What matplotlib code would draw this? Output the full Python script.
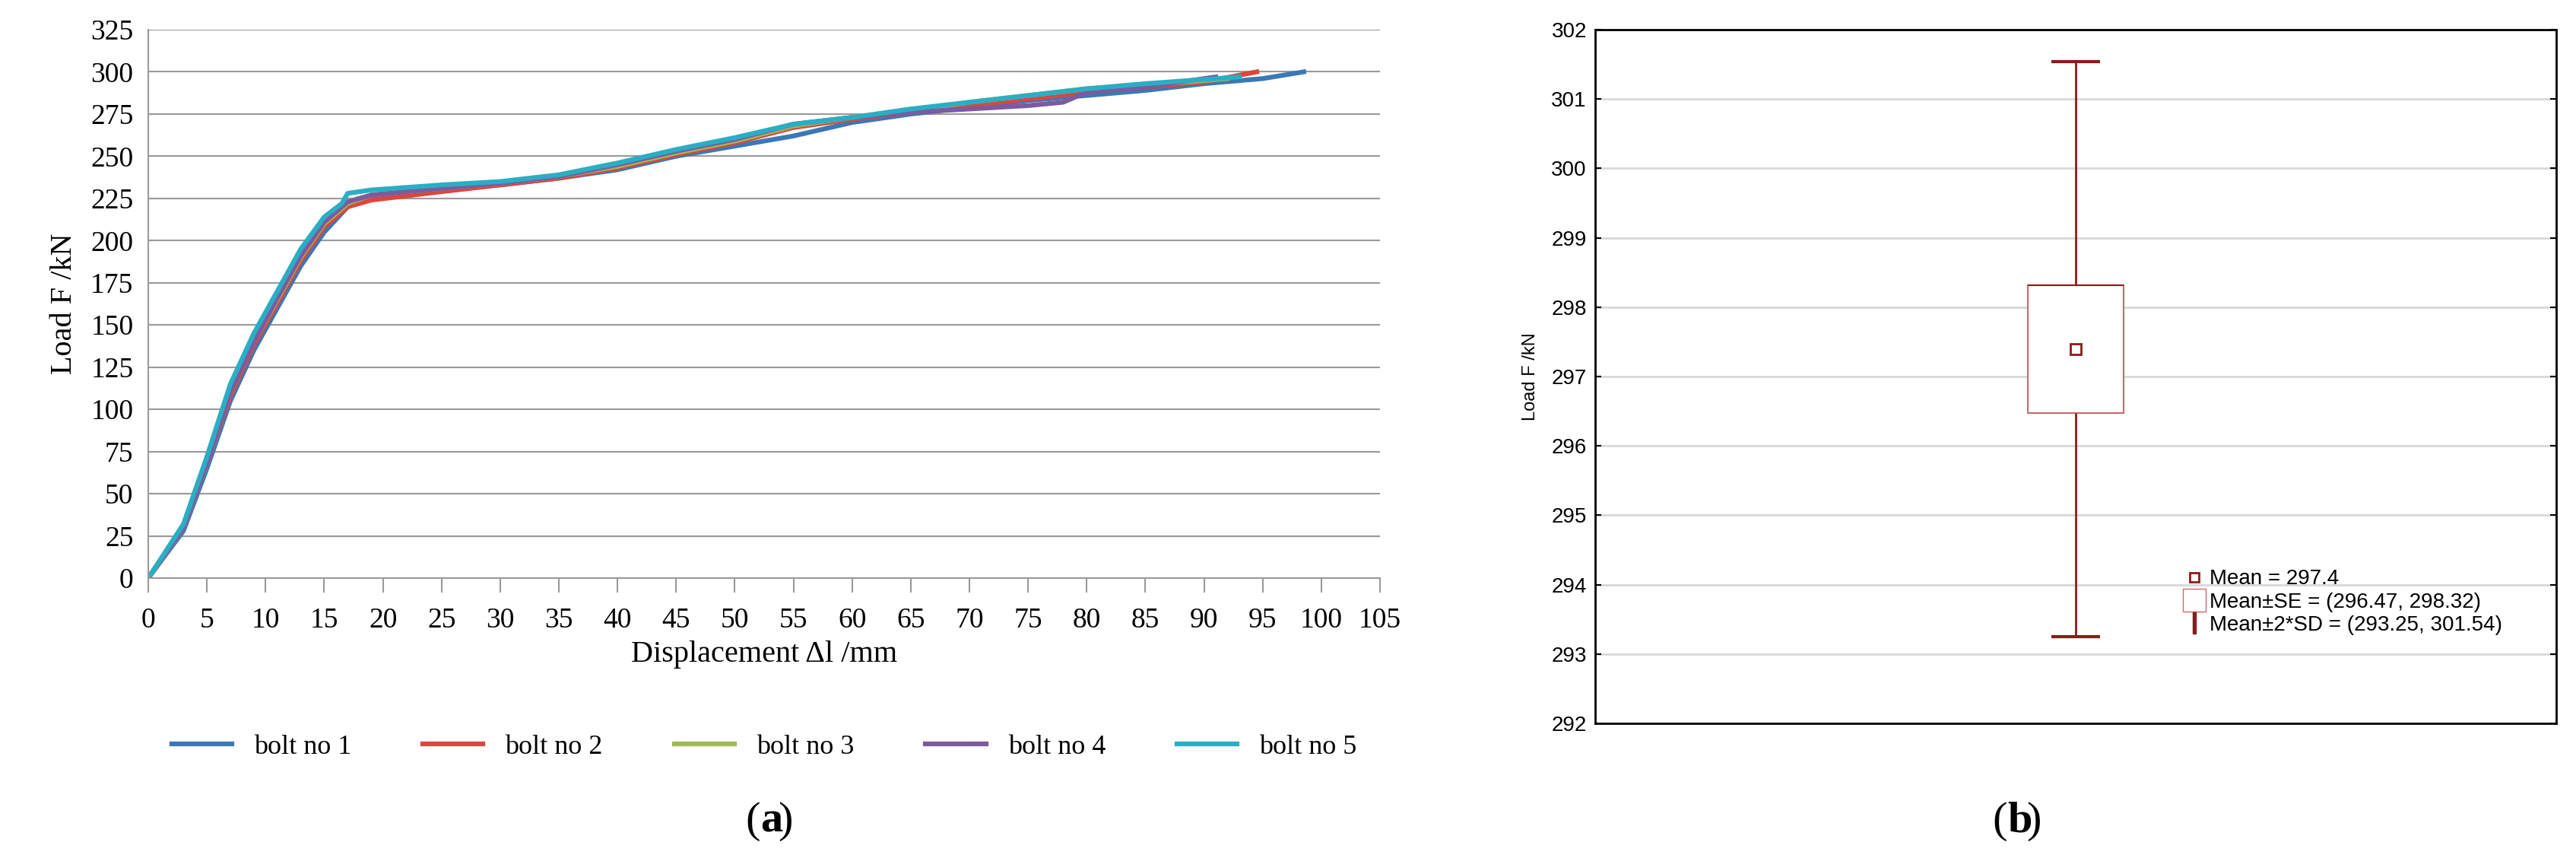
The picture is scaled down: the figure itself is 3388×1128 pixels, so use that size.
import matplotlib
matplotlib.use("Agg")
import matplotlib.pyplot as plt
from matplotlib.lines import Line2D
from matplotlib.patches import Rectangle

# --- [ panel a: load-displacement curves ] ---
BOLT_LABELS = ["bolt no 1", "bolt no 2", "bolt no 3", "bolt no 4", "bolt no 5"]
BOLT_COLORS = ["#3b78b5", "#d9473e", "#9dbb55", "#7d5aa0", "#2aaec4"]

DISP = [
    [0, 3, 5, 7, 9, 11, 13, 15, 17, 19, 25, 30, 35, 40, 45, 50, 55, 60, 65, 70, 75, 80, 85, 90, 95, 98.5],
    [0, 3, 5, 7, 9, 11, 13, 15, 17, 19, 25, 30, 35, 40, 45, 50, 55, 60, 65, 70, 75, 80, 85, 90, 94.5],
    [0, 3, 5, 7, 9, 11, 13, 15, 17, 19, 25, 30, 35, 40, 45, 50, 55, 60, 65, 70, 75, 80, 85, 92],
    [0, 3, 5, 7, 9, 11, 13, 15, 17, 19, 25, 30, 35, 40, 45, 50, 55, 60, 65, 70, 75, 78, 80, 85, 91],
    [0, 3, 5, 7, 9, 11, 13, 15, 16.5, 17, 19, 25, 30, 35, 40, 45, 50, 55, 60, 65, 70, 75, 80, 85, 93],
]
LOAD = [
    [0, 28, 65, 105, 135, 160, 185, 205, 220, 225, 230, 233, 237, 242, 250, 256, 262, 270, 275, 279, 283, 286, 289, 293, 296, 300],
    [0, 30, 68, 108, 138, 163, 188, 208, 220, 224, 229, 233, 237, 243, 251, 258, 267, 272, 276, 280, 284, 288, 291, 294, 300],
    [0, 30, 68, 110, 140, 165, 190, 210, 222, 227, 231, 234, 238, 244, 252, 259, 268, 273, 277, 282, 286, 290, 292, 296],
    [0, 30, 68, 110, 140, 166, 191, 211, 223, 227, 231, 234, 238, 245, 253, 260, 269, 273, 276, 278, 280, 282, 288, 291, 297],
    [0, 32, 72, 115, 145, 170, 195, 214, 222, 228, 230, 233, 235, 239, 246, 254, 261, 269, 273, 278, 282, 286, 290, 293, 297],
]

# --- [ panel b: mean / SE / 2*SD plot ] ---
MEAN = 297.4
SE_LOW, SE_HIGH = 296.47, 298.32
SD_LOW, SD_HIGH = 293.25, 301.54

SERIF = ["Liberation Serif", "DejaVu Serif"]
SANS = ["Liberation Sans", "DejaVu Sans"]
DARK_RED = "#8b1a1a"

fig = plt.figure(figsize=(33.88, 11.28), dpi=100)

# left axes
ax = fig.add_axes([195 / 3388, 1 - 760 / 1128, 1620 / 3388, 721 / 1128])
for xs, ys, color, label in zip(DISP, LOAD, BOLT_COLORS, BOLT_LABELS):
    ax.plot(xs, ys, color=color, lw=4.5, label=label)
ax.set_xlim(0, 105)
ax.set_ylim(0, 325)
ax.set_xticks(range(0, 106, 5))
ax.set_yticks(range(0, 326, 25))
ax.grid(axis="y", color="#9a9a9a", lw=1.5)
ax.set_axisbelow(True)
for side in ["top", "right"]:
    ax.spines[side].set_visible(False)
ax.spines["left"].set_color("#9a9a9a")
ax.spines["bottom"].set_color("#9a9a9a")
ax.spines["left"].set_linewidth(1.5)
ax.spines["bottom"].set_linewidth(1.5)
ax.tick_params(axis="y", length=0, pad=14)
ax.tick_params(axis="x", length=14, width=1.5, color="#9a9a9a", pad=14)
for t in ax.get_xticklabels() + ax.get_yticklabels():
    t.set_fontfamily(SERIF)
    t.set_fontsize(27)
ax.set_xlabel("Displacement Δl /mm", fontsize=29, family=SERIF, labelpad=6)
ax.set_ylabel("Load F /kN", fontsize=29, family=SERIF, labelpad=12)
ax.legend(loc="upper center", bbox_to_anchor=(0.5, -0.24), ncol=5, frameon=False,
          prop={"family": SERIF, "size": 26}, handlelength=2.2, columnspacing=2.6)
fig.text(1000 / 3388, 1 - 1080 / 1128, "(", ha="right", va="center",
         fontsize=42, family=SERIF)
fig.text(1000 / 3388, 1 - 1080 / 1128, "a", ha="left", va="center",
         fontsize=42, family=SERIF, fontweight="bold")
fig.text(1023 / 3388, 1 - 1080 / 1128, ")", ha="left", va="center",
         fontsize=42, family=SERIF)

# right axes
bx = fig.add_axes([2098 / 3388, 1 - 951 / 1128, 1264 / 3388, 912 / 1128])
bx.set_xlim(0, 1)
bx.set_ylim(292, 302)
bx.set_yticks(range(292, 303))
bx.set_xticks([])
bx.grid(axis="y", color="#d8d8d8", lw=2)
bx.set_axisbelow(True)
for s in bx.spines.values():
    s.set_linewidth(2)
bx.tick_params(axis="y", direction="in", length=6, width=1.5, right=True, pad=8)
for t in bx.get_yticklabels():
    t.set_fontfamily(SANS)
    t.set_fontsize(20)
bx.set_ylabel("Load F /kN", fontsize=17, family=SANS, labelpad=12)

bx.vlines(0.5, SD_LOW, SE_LOW, color=DARK_RED, lw=2)
bx.vlines(0.5, SE_HIGH, SD_HIGH, color=DARK_RED, lw=2)
bx.hlines([SD_LOW, SD_HIGH], 0.475, 0.525, color=DARK_RED, lw=3)
bx.add_patch(Rectangle((0.45, SE_LOW), 0.1, SE_HIGH - SE_LOW, facecolor="white",
                       edgecolor="#c96a6a", lw=1.5))
bx.hlines(SE_HIGH, 0.45, 0.55, color=DARK_RED, lw=1.5)
bx.plot([0.5], [MEAN], marker="s", ms=10, mfc="white", mec=DARK_RED, mew=2)

handles = [
    Line2D([], [], ls="none", marker="s", ms=8, mfc="white", mec=DARK_RED, mew=2),
    Line2D([], [], ls="none", marker="s", ms=22, mfc="white", mec="#c96a6a", mew=1),
    Line2D([], [], ls="none", marker="$\\mathsf{I}$", ms=20, color=DARK_RED),
]
labels = [f"Mean = {MEAN}", f"Mean±SE = ({SE_LOW}, {SE_HIGH})",
          f"Mean±2*SD = ({SD_LOW}, {SD_HIGH})"]
bx.legend(handles, labels, loc="lower left", bbox_to_anchor=(0.595, 0.1), frameon=False,
          prop={"family": SANS, "size": 20}, handlelength=0.8, handletextpad=0.3,
          labelspacing=0.15)
fig.text(2640 / 3388, 1 - 1080 / 1128, "(", ha="right", va="center",
         fontsize=42, family=SERIF)
fig.text(2640 / 3388, 1 - 1080 / 1128, "b", ha="left", va="center",
         fontsize=42, family=SERIF, fontweight="bold")
fig.text(2665 / 3388, 1 - 1080 / 1128, ")", ha="left", va="center",
         fontsize=42, family=SERIF)

fig.savefig("out.png", dpi=100)
